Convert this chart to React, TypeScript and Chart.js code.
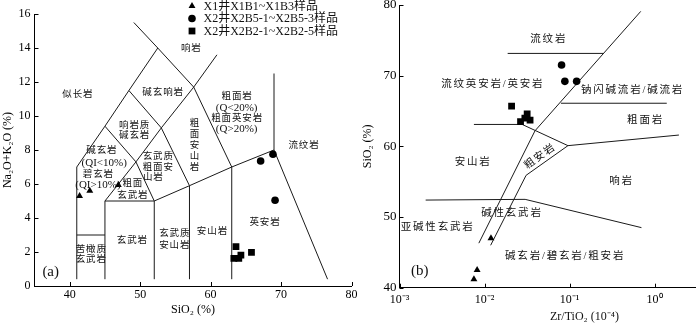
import React, { useEffect, useRef } from 'react';
import { Chart, registerables } from 'chart.js';
import { drawPoint } from 'chart.js/helpers';

Chart.register(...registerables);

// ---------------- Panel (a): TAS diagram ----------------
const tasTriangles = [[41.4, 5.3], [42.85, 5.6], [46.9, 5.94]];
const tasCircles = [[67.1, 7.35], [68.85, 7.75], [69.15, 5.04]];
const tasSquares = [[63.6, 2.31], [65.8, 1.98], [64.3, 1.82], [63.3, 1.63], [64.0, 1.63]];
const tasXTicks = [40, 50, 60, 70, 80];
const tasYTicks = [0, 2, 4, 6, 8, 10, 12, 14, 16];

const tasBoundaries = [
  [[41, 0.4], [41, 7], [45, 9.4], [48.4, 11.5], [52.5, 14], [49.1, 15.5]],
  [[52.5, 14], [57.6, 11.7], [63, 7]],
  [[45, 9.4], [49.4, 7.3], [45, 5]],
  [[48.4, 11.5], [53, 9.3], [57, 5.9]],
  [[53, 9.3], [49.4, 7.3], [52, 5]],
  [[53, 9.3], [57.6, 11.7], [60.9, 13.6]],
  [[41, 3], [45, 3]],
  [[45, 0.4], [45, 5], [52, 5], [57, 5.9], [63, 7], [69, 8], [76.6, 0.4]],
  [[52, 0.4], [52, 5]],
  [[57, 0.4], [57, 5.9]],
  [[63, 0.4], [63, 7]],
  [[69, 8], [69, 12.5]],
];

const tasLabels = [
  { text: '响岩', x: 57.2, y: 14.0 },
  { text: '碱玄响岩', x: 53.2, y: 11.37 },
  { text: '似长岩', x: 41.1, y: 11.28 },
  { text: '粗面岩', x: 63.7, y: 11.14 },
  { text: '(Q<20%)', x: 63.7, y: 10.45 },
  { text: '粗面英安岩', x: 63.7, y: 9.86 },
  { text: '(Q>20%)', x: 63.7, y: 9.25 },
  { text: '响岩质', x: 49.15, y: 9.47 },
  { text: '碱玄岩', x: 49.15, y: 8.88 },
  { text: '碱玄岩', x: 44.5, y: 7.98 },
  { text: '(QI<10%)', x: 44.9, y: 7.2 },
  { text: '碧玄岩', x: 44.0, y: 6.55 },
  { text: '(QI>10%)', x: 44.0, y: 5.95 },
  { text: '玄武质', x: 52.5, y: 7.6 },
  { text: '粗面安', x: 52.5, y: 6.97 },
  { text: '山岩', x: 51.8, y: 6.37 },
  { text: '粗面', x: 48.9, y: 6.04 },
  { text: '玄武岩', x: 48.9, y: 5.35 },
  { text: '流纹岩', x: 73.2, y: 8.25 },
  { text: '英安岩', x: 67.66, y: 3.72 },
  { text: '安山岩', x: 60.2, y: 3.19 },
  { text: '玄武质', x: 54.85, y: 3.1 },
  { text: '安山岩', x: 54.85, y: 2.41 },
  { text: '玄武岩', x: 48.83, y: 2.66 },
  { text: '苦橄质', x: 42.99, y: 2.16 },
  { text: '玄武岩', x: 42.99, y: 1.53 },
];
const tasVerticalLabels = [{ text: '粗面安山岩', x: 57.7, y: 8.29 }];
const tasTag = { text: '(a)', x: 37.3, y: 0.84 };

// ---------------- Panel (b): Zr/TiO2 - SiO2 ----------------
const wfTriangles = [[0.00818, 42.5], [0.0075, 41.2], [0.0119, 47.0]];
const wfCircles = [[0.0805, 71.5], [0.088, 69.2], [0.121, 69.2]];
const wfSquares = [[0.0208, 65.7], [0.0317, 64.6], [0.0343, 63.7], [0.0265, 63.5], [0.0298, 64.0]];
const wfXTicks = [0.001, 0.01, 0.1, 1];
const wfXTickLabels = ['10⁻³', '10⁻²', '10⁻¹', '10⁰'];
const wfYTicks = [40, 50, 60, 70, 80];

const wfBoundaries = [
  [[0.687, 79.1], [0.0392, 62.2], [0.00857, 46.3]],
  [[0.0957, 60.1], [0.0308, 55.9], [0.0118, 46.0]],
  [[0.0075, 63.1], [0.0277, 63.1], [0.0957, 60.1], [1.93, 61.6]],
  [[0.00203, 52.4], [0.03, 52.5], [0.7, 48.5]],
  [[0.0187, 73.15], [0.2506, 73.15]],
  [[0.0791, 66.1], [1.389, 66.1]],
];

const wfLabels = [
  { text: '流纹岩', x: 0.0555, y: 75.1 },
  { text: '流纹英安岩/英安岩', x: 0.0122, y: 68.8 },
  { text: '钠闪碱流岩/碱流岩', x: 0.536, y: 67.96 },
  { text: '粗面岩', x: 0.763, y: 63.7 },
  { text: '安山岩', x: 0.00716, y: 57.8 },
  { text: '响岩', x: 0.399, y: 55.0 },
  { text: '碱性玄武岩', x: 0.0205, y: 50.5 },
  { text: '亚碱性玄武岩', x: 0.00274, y: 48.6 },
  { text: '碱玄岩/碧玄岩/粗安岩', x: 0.0865, y: 44.4 },
];
const wfRotatedLabels = [{ text: '粗安岩', x: 0.0445, y: 58.5 }];
const wfTag = { text: '(b)', x: 0.00173, y: 42.4 };

const legendLabels = ['X1井X1B1~X1B3样品', 'X2井X2B5-1~X2B5-3样品', 'X2井X2B2-1~X2B2-5样品'];

// ---------------- helpers ----------------
const SERIF = "'Liberation Serif', 'Times New Roman', 'Noto Sans CJK SC', serif";
const INK = '#111';
const hasCJK = (s: string) => /[\u3400-\u9fff]/.test(s);

const toXY = (arr: number[][]) => arr.map(([x, y]) => ({ x, y }));

function sampleDatasets(tri: number[][], cir: number[][], sq: number[][]) {
  const base = { backgroundColor: '#000', borderWidth: 0, showLine: false, order: 0, sample: true };
  return [
    { ...base, label: legendLabels[0], data: toXY(tri), pointStyle: 'triangle', pointRadius: 4 },
    { ...base, label: legendLabels[1], data: toXY(cir), pointStyle: 'circle', pointRadius: 3.8 },
    { ...base, label: legendLabels[2], data: toXY(sq), pointStyle: 'rect', pointRadius: 4.8 },
  ];
}

function lineDatasets(lines: number[][][]) {
  return lines.map((l, i) => ({
    label: 'b' + i,
    data: toXY(l),
    showLine: true,
    pointRadius: 0,
    borderColor: '#1a1a1a',
    borderWidth: 1,
    tension: 0,
    fill: false,
    order: 1,
    clip: false,
  }));
}

// draws text centred at (px, py); CJK text gets manual letter spacing
function drawText(ctx: CanvasRenderingContext2D, text: string, px: number, py: number, cjkSize: number, latinSize: number, spacing: number) {
  if (hasCJK(text)) {
    ctx.font = `${cjkSize}px ${SERIF}`;
    const chars = Array.from(text);
    const widths = chars.map((c) => ctx.measureText(c).width);
    const total = widths.reduce((a, b) => a + b, 0) + spacing * (chars.length - 1);
    const prevAlign = ctx.textAlign;
    ctx.textAlign = 'left';
    let cx = px - total / 2;
    chars.forEach((c, i) => {
      ctx.fillText(c, cx, py);
      cx += widths[i] + spacing;
    });
    ctx.textAlign = prevAlign;
  } else {
    ctx.font = `${latinSize}px ${SERIF}`;
    ctx.fillText(text, px, py);
  }
}

function innerTicks(chart: any, xs: number[], ys: number[], len: number) {
  const { ctx, chartArea, scales } = chart;
  ctx.save();
  ctx.strokeStyle = '#000';
  ctx.lineWidth = 1;
  ctx.beginPath();
  for (const v of xs) {
    const px = Math.round(scales.x.getPixelForValue(v)) + 0.5;
    ctx.moveTo(px, chartArea.bottom);
    ctx.lineTo(px, chartArea.bottom - len);
  }
  for (const v of ys) {
    const py = Math.round(scales.y.getPixelForValue(v)) + 0.5;
    ctx.moveTo(chartArea.left, py);
    ctx.lineTo(chartArea.left + len, py);
  }
  ctx.stroke();
  ctx.restore();
}

const tasPlugin = {
  id: 'tasAnno',
  afterDatasetsDraw(chart: any) {
    const { ctx, scales } = chart;
    const X = (v: number) => scales.x.getPixelForValue(v);
    const Y = (v: number) => scales.y.getPixelForValue(v);
    innerTicks(chart, tasXTicks, tasYTicks, 4);
    ctx.save();
    ctx.fillStyle = INK;
    ctx.textAlign = 'center';
    ctx.textBaseline = 'middle';
    for (const l of tasLabels) drawText(ctx, l.text, X(l.x), Y(l.y), 9.5, 11, 0.9);
    for (const l of tasVerticalLabels) {
      const chars = Array.from(l.text);
      ctx.font = `9.5px ${SERIF}`;
      chars.forEach((c, i) => {
        ctx.fillText(c, X(l.x), Y(l.y) + (i - (chars.length - 1) / 2) * 11);
      });
    }
    ctx.font = `15px ${SERIF}`;
    ctx.fillText(tasTag.text, X(tasTag.x), Y(tasTag.y));

    // legend
    const samples = chart.data.datasets.filter((d: any) => d.sample);
    const rows = [6, 18.5, 31];
    samples.forEach((d: any, i: number) => {
      ctx.fillStyle = '#000';
      drawPoint(ctx, { pointStyle: d.pointStyle, radius: d.pointRadius, rotation: 0, borderWidth: 0 } as any, 192, rows[i]);
      ctx.fillStyle = INK;
      ctx.textAlign = 'left';
      ctx.font = `12px ${SERIF}`;
      ctx.fillText(d.label, 203.5, rows[i] + 0.5);
    });
    ctx.restore();
  },
};

const wfPlugin = {
  id: 'wfAnno',
  afterDatasetsDraw(chart: any) {
    const { ctx, scales, chartArea } = chart;
    const X = (v: number) => scales.x.getPixelForValue(v);
    const Y = (v: number) => scales.y.getPixelForValue(v);
    innerTicks(chart, wfXTicks, wfYTicks, 4);
    ctx.save();
    ctx.fillStyle = INK;
    ctx.textAlign = 'center';
    ctx.textBaseline = 'middle';
    for (const l of wfLabels) drawText(ctx, l.text, X(l.x), Y(l.y), 10.5, 12, 1.8);
    for (const l of wfRotatedLabels) {
      ctx.save();
      ctx.translate(X(l.x), Y(l.y));
      ctx.rotate((-36 * Math.PI) / 180);
      drawText(ctx, l.text, 0, 0, 10.5, 12, 1.5);
      ctx.restore();
    }
    ctx.font = `15px ${SERIF}`;
    ctx.fillText(wfTag.text, X(wfTag.x), Y(wfTag.y));
    // x-axis title (placed right of centre as in the reference)
    ctx.font = `12px ${SERIF}`;
    ctx.fillText('Zr/TiO₂ (10⁻⁴)', chartArea.left + 185, 317);
    ctx.restore();
  },
};

const tickFont = (size: number) => ({ family: SERIF, size });

function tasConfig(): any {
  return {
    type: 'scatter',
    data: { datasets: [...sampleDatasets(tasTriangles, tasCircles, tasSquares), ...lineDatasets(tasBoundaries)] },
    options: {
      responsive: false,
      animation: false,
      devicePixelRatio: 1,
      events: [],
      layout: { padding: { left: 0, right: 8.5, top: 14, bottom: 0 } },
      plugins: { legend: { display: false }, tooltip: { enabled: false } },
      scales: {
        x: {
          type: 'linear',
          min: 35,
          max: 80,
          bounds: 'data',
          afterBuildTicks: (s: any) => { s.ticks = tasXTicks.map((v) => ({ value: v })); },
          afterFit: (s: any) => { s.height = 40; s.paddingLeft = 0; s.paddingRight = 0; },
          grid: { display: false, drawTicks: false },
          border: { display: true, color: '#000', width: 1 },
          ticks: { color: '#000', font: tickFont(12), padding: 2, maxRotation: 0, autoSkip: false },
          title: { display: true, text: 'SiO₂ (%)', color: '#000', font: tickFont(12), padding: { top: 0, bottom: 8.8 } },
        },
        y: {
          type: 'linear',
          min: 0,
          max: 16,
          bounds: 'data',
          afterBuildTicks: (s: any) => { s.ticks = tasYTicks.map((v) => ({ value: v })); },
          afterFit: (s: any) => { s.width = 34.5; s.paddingTop = 0; s.paddingBottom = 0; },
          grid: { display: false, drawTicks: false },
          border: { display: true, color: '#000', width: 1 },
          ticks: { color: '#000', font: tickFont(12), padding: 4, autoSkip: false },
          title: { display: true, text: 'Na₂O+K₂O (%)', color: '#000', font: tickFont(12), padding: { top: 1, bottom: 0 } },
        },
      },
    },
    plugins: [tasPlugin],
  };
}

function wfConfig(): any {
  return {
    type: 'scatter',
    data: { datasets: [...sampleDatasets(wfTriangles, wfCircles, wfSquares), ...lineDatasets(wfBoundaries)] },
    options: {
      responsive: false,
      animation: false,
      devicePixelRatio: 1,
      events: [],
      layout: { padding: { left: 0, right: 0, top: 5, bottom: 0 } },
      plugins: { legend: { display: false }, tooltip: { enabled: false } },
      scales: {
        x: {
          type: 'logarithmic',
          min: 0.001,
          max: 3,
          bounds: 'data',
          afterBuildTicks: (s: any) => { s.ticks = wfXTicks.map((v) => ({ value: v })); },
          afterFit: (s: any) => { s.height = 38.3; s.paddingLeft = 0; s.paddingRight = 0; },
          grid: { display: false, drawTicks: false },
          border: { display: true, color: '#000', width: 1 },
          ticks: {
            color: '#000',
            font: tickFont(12),
            padding: 5,
            maxRotation: 0,
            autoSkip: false,
            callback: (_v: any, i: number) => wfXTickLabels[i],
          },
          title: { display: false },
        },
        y: {
          type: 'linear',
          min: 40,
          max: 80,
          bounds: 'data',
          afterBuildTicks: (s: any) => { s.ticks = wfYTicks.map((v) => ({ value: v })); },
          afterFit: (s: any) => { s.width = 49.5; s.paddingTop = 0; s.paddingBottom = 0; },
          grid: { display: false, drawTicks: false },
          border: { display: true, color: '#000', width: 1 },
          ticks: { color: '#000', font: tickFont(13), padding: 3, autoSkip: false },
          title: { display: true, text: 'SiO₂ (%)', color: '#000', font: tickFont(12), padding: { top: 10.8, bottom: 0 } },
        },
      },
    },
    plugins: [wfPlugin],
  };
}

export default function App() {
  const refA = useRef<HTMLCanvasElement>(null);
  const refB = useRef<HTMLCanvasElement>(null);
  useEffect(() => {
    const a = new Chart(refA.current as HTMLCanvasElement, tasConfig());
    const b = new Chart(refB.current as HTMLCanvasElement, wfConfig());
    return () => {
      a.destroy();
      b.destroy();
    };
  }, []);
  return (
    <div style={{ position: 'absolute', left: 0, top: 0, width: 700, height: 326, background: '#fff', overflow: 'hidden' }}>
      <canvas ref={refA} width={360} height={326} style={{ position: 'absolute', left: 0, top: 0 }} />
      <canvas ref={refB} width={350} height={326} style={{ position: 'absolute', left: 350, top: 0 }} />
    </div>
  );
}
